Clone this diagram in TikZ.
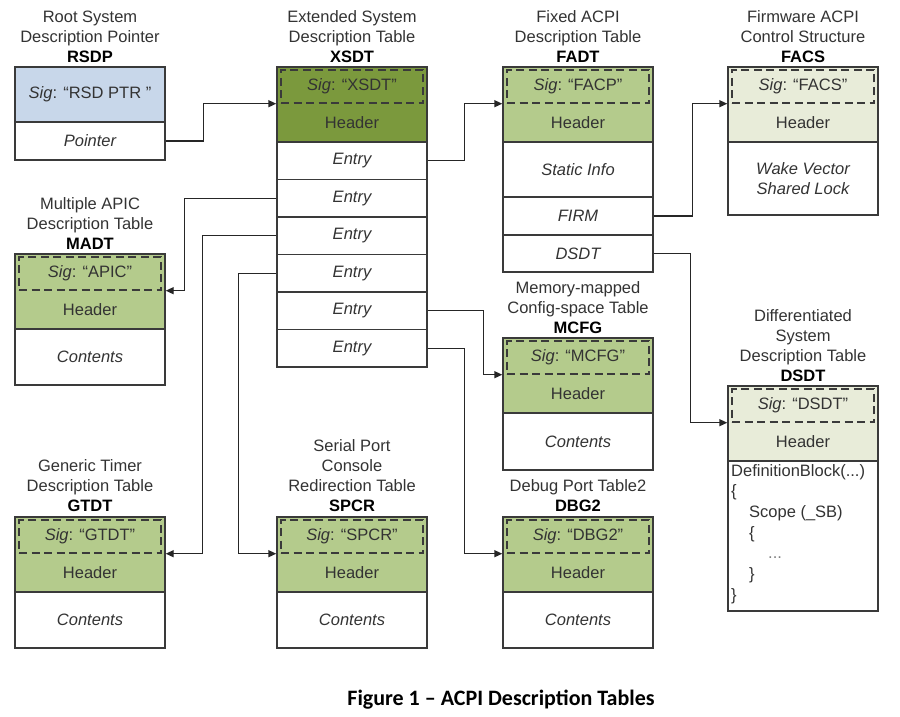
\documentclass[tikz,border=0pt]{standalone}
\usepackage{fontspec}
\setmainfont{Liberation Sans}
\newfontfamily\capfont{Carlito}
\usetikzlibrary{arrows.meta}
\definecolor{rsdpblue}{HTML}{C8D7EA}
\definecolor{hdrdark}{HTML}{7B993D}
\definecolor{hdrmid}{HTML}{B4CB8C}
\definecolor{hdrlight}{HTML}{E8ECD9}
\definecolor{ink}{HTML}{3A3A3A}
\definecolor{txtc}{HTML}{333333}
\newcommand\acpihdr[5]{%
  \node[hdbox, fill=#4] (#1hd) at (#2,#3+37.5) {};
  \node[sigbox] (#1sig) at (#2,#3+19.5) {\textit{Sig}: #5};
  \node (#1hdr) at (#2,#3+56) {Header};
}
\begin{document}
\begin{tikzpicture}[x=1pt,y=-1pt,
  every node/.style={font=\fontsize{16.5}{20}\selectfont, text=txtc},
  box/.style={draw=ink, line width=1.4pt, minimum width=150pt, inner sep=0pt},
  hdbox/.style={box, minimum height=75pt},
  cell/.style={box, fill=white, font=\fontsize{16.5}{20}\selectfont\itshape},
  sigbox/.style={draw=ink, dash pattern=on 8pt off 4.5pt, line width=1.4pt, minimum width=142pt, minimum height=33pt, inner sep=0pt},
  title/.style={align=center, inner sep=0pt, anchor=south},
  arr/.style={draw=black!85, line width=1.4pt, -{Triangle[length=8pt,width=7pt]}}
]
\useasboundingbox[fill=white] (0,0) rectangle (900,717);

% ---------- RSDP
\node[title] (rsdpT) at (90,63) {Root System\\Description Pointer\\\textbf{\color{black}RSDP}};
\node[box, fill=rsdpblue, minimum height=55pt] (rsig) at (90,94.5) {\textit{Sig}: “RSD PTR ”};
\node[cell, minimum height=38pt] (rptr) at (90,141) {Pointer};

% ---------- XSDT
\node[title] (xsdtT) at (352,63) {Extended System\\Description Table\\\textbf{\color{black}XSDT}};
\acpihdr{x}{352}{67}{hdrdark}{“XSDT”}
\node[cell, minimum height=37.5pt] (xe1) at (352,160.75) {Entry};
\node[cell, minimum height=37.5pt] (xe2) at (352,198.25) {Entry};
\node[cell, minimum height=37.5pt] (xe3) at (352,235.75) {Entry};
\node[cell, minimum height=37.5pt] (xe4) at (352,273.25) {Entry};
\node[cell, minimum height=37.5pt] (xe5) at (352,310.75) {Entry};
\node[cell, minimum height=37.5pt] (xe6) at (352,348.25) {Entry};

% ---------- FADT
\node[title] (fadtT) at (578,63) {Fixed ACPI\\Description Table\\\textbf{\color{black}FADT}};
\acpihdr{f}{578}{67}{hdrmid}{“FACP”}
\node[cell, minimum height=55pt] (fstat) at (578,169.5) {Static Info};
\node[cell, minimum height=38pt] (ffirm) at (578,216) {FIRM};
\node[cell, minimum height=37pt] (fdsdt) at (578,253.5) {DSDT};

% ---------- FACS
\node[title] (facsT) at (803,63) {Firmware ACPI\\Control Structure\\\textbf{\color{black}FACS}};
\acpihdr{c}{803}{67}{hdrlight}{“FACS”}
\node[cell, minimum height=73pt, align=center] (cbody) at (803,178.5) {Wake Vector\\Shared Lock};

% ---------- MADT
\node[title] (madtT) at (90,250) {Multiple APIC\\Description Table\\\textbf{\color{black}MADT}};
\acpihdr{m}{90}{254}{hdrmid}{“APIC”}
\node[cell, minimum height=56pt] (mcont) at (90,357) {Contents};

% ---------- MCFG
\node[title] (mcfgT) at (578,334) {Memory-mapped\\Config-space Table\\\textbf{\color{black}MCFG}};
\acpihdr{mc}{578}{338}{hdrmid}{“MCFG”}
\node[cell, minimum height=57pt] (mccont) at (578,441.5) {Contents};

% ---------- DSDT
\node[title] (dsdtT) at (803,382) {Differentiated\\System\\Description Table\\\textbf{\color{black}DSDT}};
\acpihdr{d}{803}{386}{hdrlight}{“DSDT”}
\node[box, fill=white, minimum height=150pt] (dbody) at (803,536) {};
\node[anchor=north west, align=left, inner sep=0pt, font=\fontsize{16.5}{20.7}\selectfont] (dcode) at (731,464)
  {DefinitionBlock(...)\\\{\\\hspace*{18pt}Scope (\_SB)\\\hspace*{18pt}\{\\\hspace*{37pt}{\color{gray}...}\\\hspace*{18pt}\}\\\}};

% ---------- GTDT
\node[title] (gtdtT) at (90,512) {Generic Timer\\Description Table\\\textbf{\color{black}GTDT}};
\acpihdr{g}{90}{517}{hdrmid}{“GTDT”}
\node[cell, minimum height=56pt] (gcont) at (90,620) {Contents};

% ---------- SPCR
\node[title] (spcrT) at (352,512) {Serial Port\\Console\\Redirection Table\\\textbf{\color{black}SPCR}};
\acpihdr{s}{352}{517}{hdrmid}{“SPCR”}
\node[cell, minimum height=56pt] (scont) at (352,620) {Contents};

% ---------- DBG2
\node[title] (dbgT) at (578,512) {Debug Port Table2\\\textbf{\color{black}DBG2}};
\acpihdr{b}{578}{517}{hdrmid}{“DBG2”}
\node[cell, minimum height=56pt] (bcont) at (578,620) {Contents};

% ---------- connectors
\draw[arr] (rptr.east) -- ++(38,0) |- (xhd.west |- xsig.south);
\draw[arr] (xe1.east) -- ++(37,0) |- (fhd.west |- fsig.south);
\draw[arr] (ffirm.east) -- ++(39,0) |- (chd.west |- csig.south);
\draw[arr] (fdsdt.east) -- ++(37,0) |- (dhd.west |- dsig.south);
\draw[arr] (xe2.west) -- ++(-92,0) |- (mhd.east |- msig.south);
\draw[arr] (xe3.west) -- ++(-74,0) |- (ghd.east |- gsig.south);
\draw[arr] (xe4.west) -- ++(-38,0) |- (shd.west |- ssig.south);
\draw[arr] (xe5.east) -- ++(56,0) |- (mchd.west |- mcsig.south);
\draw[arr] (xe6.east) -- ++(37,0) |- (bhd.west |- bsig.south);

% ---------- caption
\node[font=\capfont\bfseries\fontsize{22}{26}\selectfont, text=black] (cap) at (501,700) {Figure 1 – ACPI Description Tables};
\end{tikzpicture}
\end{document}
